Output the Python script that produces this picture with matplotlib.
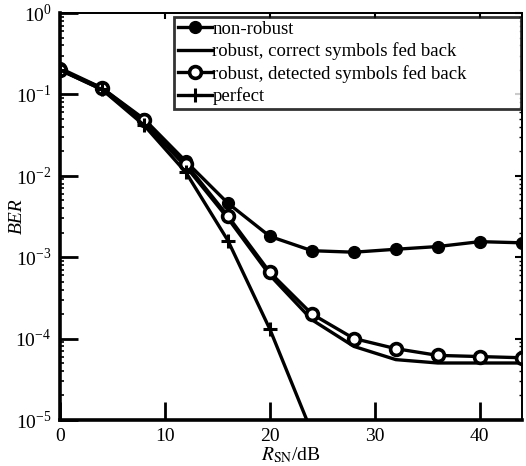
import numpy as np
import matplotlib.pyplot as plt
from matplotlib.ticker import LogLocator, NullFormatter, FixedLocator, FuncFormatter

plt.rcParams['font.family'] = ['Liberation Serif', 'DejaVu Serif']
plt.rcParams['mathtext.fontset'] = 'stix'

snr = [0, 4, 8, 12, 16, 20, 24, 28, 32, 36, 40, 44]
ber_nonrobust = [0.21, 0.12, 0.05, 0.015, 0.0046, 0.0018, 0.0012, 0.00115,
                 0.00125, 0.00135, 0.00155, 0.0015]
ber_robust_correct = [0.2, 0.115, 0.045, 0.013, 0.003, 0.0006, 0.00017,
                      8e-5, 5.5e-5, 5e-5, 5e-5, 5e-5]
ber_robust_detected = [0.2, 0.12, 0.048, 0.014, 0.0032, 0.00065, 0.0002,
                       0.0001, 7.5e-5, 6.2e-5, 6e-5, 5.8e-5]
snr_perfect = [0, 4, 8, 12, 16, 20, 24]
ber_perfect = [0.2, 0.115, 0.042, 0.011, 0.0016, 0.00013, 7e-6]

fig = plt.figure(figsize=(5.26, 4.66), dpi=100)
ax = fig.add_axes([0.114, 0.099, 0.878, 0.873])

lw = 2.4
ax.plot(snr, ber_nonrobust, '-o', color='k', lw=lw, ms=8.5,
        mfc='k', label='non-robust')
ax.plot(snr, ber_robust_correct, '-', color='k', lw=lw,
        label='robust, correct symbols fed back')
ax.plot(snr, ber_robust_detected, '-o', color='k', lw=lw, ms=8.5,
        mfc='white', mew=2.6, label='robust, detected symbols fed back')
ax.plot(snr_perfect, ber_perfect, '-+', color='k', lw=lw, ms=10,
        mew=2.2, label='perfect')

ax.set_yscale('log')
ax.set_xlim(0, 44)
ax.set_ylim(1e-5, 1)

ax.xaxis.set_major_locator(FixedLocator([0, 10, 20, 30, 40]))
ax.yaxis.set_major_locator(LogLocator(base=10, numticks=10))
ax.yaxis.set_major_formatter(FuncFormatter(
    lambda v, p: r'10$^{\mathregular{%d}}$' % round(np.log10(v))))
ax.yaxis.set_minor_locator(LogLocator(base=10, subs=np.arange(2, 10), numticks=10))
ax.yaxis.set_minor_formatter(NullFormatter())

ax.tick_params(which='major', direction='in', length=13, width=2,
               labelsize=14, pad=6)
ax.tick_params(which='minor', direction='in', length=3, width=1.2)
for side in ['left', 'bottom']:
    ax.spines[side].set_linewidth(2.6)
for side in ['top', 'right']:
    ax.spines[side].set_linewidth(1.3)

# short ticks on top and right
top = ax.secondary_xaxis('top')
top.xaxis.set_major_locator(FixedLocator([10, 20, 30, 40]))
top.tick_params(direction='in', length=4, width=1.5, labeltop=False)
right = ax.secondary_yaxis('right')
right.yaxis.set_major_locator(LogLocator(base=10, numticks=10))
right.yaxis.set_minor_locator(LogLocator(base=10, subs=np.arange(2, 10), numticks=10))
right.tick_params(which='major', direction='in', length=5, width=1.5, labelright=False)
right.tick_params(which='minor', direction='in', length=2.5, width=1, labelright=False)
top.spines['top'].set_linewidth(1.3)
right.spines['right'].set_linewidth(1.3)

ax.set_xlabel(r'$R_{\mathrm{SN}}$/dB', fontsize=14, labelpad=0)
ax.set_ylabel('BER', fontsize=14, fontstyle='italic')
ax.yaxis.set_label_coords(-0.075, 0.5)

leg = ax.legend(loc='upper left', bbox_to_anchor=(0.247, 0.3, 0.751, 0.69),
                mode='expand', fontsize=13.5, frameon=True, fancybox=False,
                handlelength=1.8, handletextpad=0.05, labelspacing=0.24,
                borderpad=0.2, borderaxespad=0.0)
leg.get_frame().set_edgecolor('k')
leg.get_frame().set_linewidth(2)

fig.savefig('out.png', dpi=100)
